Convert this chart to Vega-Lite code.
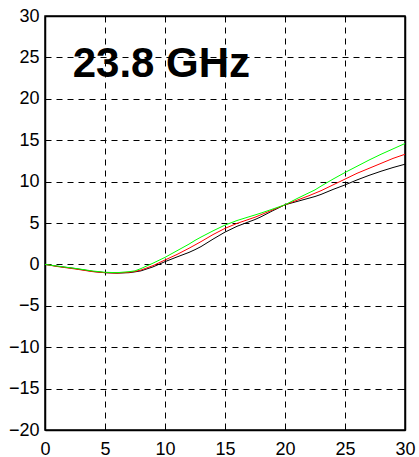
{
  "$schema": "https://vega.github.io/schema/vega-lite/v6.json",
  "width": 360,
  "height": 414,
  "autosize": {"type": "none"},
  "padding": {"left": 45, "top": 16, "right": 14, "bottom": 27},
  "background": "white",
  "config": {
    "font": "Liberation Sans",
    "view": {"stroke": "black", "strokeWidth": 1.5},
    "axis": {
      "labelFont": "Liberation Sans",
      "labelFontSize": 18,
      "labelColor": "black",
      "tickColor": "black",
      "tickSize": -5,
      "domainColor": "black",
      "domainWidth": 1.5,
      "title": null,
      "gridColor": "#000",
      "gridDash": [6, 5],
      "gridWidth": 1
    }
  },
  "datasets": {
    "curves": [
      {"x": 0, "y": 0, "s": "black"}, {"x": 1, "y": -0.22, "s": "black"}, {"x": 2.5, "y": -0.5, "s": "black"}, {"x": 4, "y": -0.85, "s": "black"}, {"x": 5, "y": -1.0, "s": "black"}, {"x": 6, "y": -1.05, "s": "black"}, {"x": 7, "y": -1.0, "s": "black"}, {"x": 7.5, "y": -0.9, "s": "black"}, {"x": 8, "y": -0.78, "s": "black"}, {"x": 9, "y": -0.3, "s": "black"}, {"x": 10, "y": 0.33, "s": "black"}, {"x": 11, "y": 0.9, "s": "black"}, {"x": 12, "y": 1.45, "s": "black"}, {"x": 12.5, "y": 1.78, "s": "black"}, {"x": 13, "y": 2.15, "s": "black"}, {"x": 14, "y": 3.05, "s": "black"}, {"x": 15, "y": 3.9, "s": "black"}, {"x": 16, "y": 4.6, "s": "black"}, {"x": 17, "y": 5.15, "s": "black"}, {"x": 17.5, "y": 5.42, "s": "black"}, {"x": 18, "y": 5.75, "s": "black"}, {"x": 19, "y": 6.5, "s": "black"}, {"x": 20, "y": 7.2, "s": "black"}, {"x": 21, "y": 7.6, "s": "black"}, {"x": 22, "y": 8.0, "s": "black"}, {"x": 22.5, "y": 8.2, "s": "black"}, {"x": 23, "y": 8.45, "s": "black"}, {"x": 24, "y": 9.05, "s": "black"}, {"x": 25, "y": 9.6, "s": "black"}, {"x": 26, "y": 10.2, "s": "black"}, {"x": 27, "y": 10.75, "s": "black"}, {"x": 27.5, "y": 11.0, "s": "black"}, {"x": 28, "y": 11.25, "s": "black"}, {"x": 29, "y": 11.7, "s": "black"}, {"x": 30, "y": 12.1, "s": "black"},
      {"x": 0, "y": 0, "s": "red"}, {"x": 1, "y": -0.25, "s": "red"}, {"x": 2.5, "y": -0.55, "s": "red"}, {"x": 4, "y": -0.88, "s": "red"}, {"x": 5, "y": -1.0, "s": "red"}, {"x": 6, "y": -1.05, "s": "red"}, {"x": 7, "y": -0.95, "s": "red"}, {"x": 7.5, "y": -0.85, "s": "red"}, {"x": 8, "y": -0.68, "s": "red"}, {"x": 9, "y": -0.15, "s": "red"}, {"x": 10, "y": 0.53, "s": "red"}, {"x": 11, "y": 1.2, "s": "red"}, {"x": 12, "y": 1.95, "s": "red"}, {"x": 12.5, "y": 2.35, "s": "red"}, {"x": 13, "y": 2.75, "s": "red"}, {"x": 14, "y": 3.6, "s": "red"}, {"x": 15, "y": 4.35, "s": "red"}, {"x": 16, "y": 4.95, "s": "red"}, {"x": 17, "y": 5.45, "s": "red"}, {"x": 17.5, "y": 5.7, "s": "red"}, {"x": 18, "y": 6.0, "s": "red"}, {"x": 19, "y": 6.6, "s": "red"}, {"x": 20, "y": 7.2, "s": "red"}, {"x": 21, "y": 7.75, "s": "red"}, {"x": 22, "y": 8.3, "s": "red"}, {"x": 22.5, "y": 8.6, "s": "red"}, {"x": 23, "y": 8.9, "s": "red"}, {"x": 24, "y": 9.6, "s": "red"}, {"x": 25, "y": 10.3, "s": "red"}, {"x": 26, "y": 11.0, "s": "red"}, {"x": 27, "y": 11.6, "s": "red"}, {"x": 27.5, "y": 11.9, "s": "red"}, {"x": 28, "y": 12.2, "s": "red"}, {"x": 29, "y": 12.8, "s": "red"}, {"x": 30, "y": 13.3, "s": "red"},
      {"x": 0, "y": 0, "s": "green"}, {"x": 1, "y": -0.2, "s": "green"}, {"x": 2.5, "y": -0.48, "s": "green"}, {"x": 4, "y": -0.8, "s": "green"}, {"x": 5, "y": -0.95, "s": "green"}, {"x": 6, "y": -1.0, "s": "green"}, {"x": 7, "y": -0.88, "s": "green"}, {"x": 7.5, "y": -0.78, "s": "green"}, {"x": 8, "y": -0.5, "s": "green"}, {"x": 9, "y": 0.15, "s": "green"}, {"x": 10, "y": 0.85, "s": "green"}, {"x": 11, "y": 1.65, "s": "green"}, {"x": 12, "y": 2.45, "s": "green"}, {"x": 12.5, "y": 2.9, "s": "green"}, {"x": 13, "y": 3.3, "s": "green"}, {"x": 14, "y": 4.05, "s": "green"}, {"x": 15, "y": 4.75, "s": "green"}, {"x": 16, "y": 5.3, "s": "green"}, {"x": 17, "y": 5.75, "s": "green"}, {"x": 17.5, "y": 5.97, "s": "green"}, {"x": 18, "y": 6.2, "s": "green"}, {"x": 19, "y": 6.7, "s": "green"}, {"x": 20, "y": 7.2, "s": "green"}, {"x": 21, "y": 7.95, "s": "green"}, {"x": 22, "y": 8.65, "s": "green"}, {"x": 22.5, "y": 9.0, "s": "green"}, {"x": 23, "y": 9.45, "s": "green"}, {"x": 24, "y": 10.3, "s": "green"}, {"x": 25, "y": 11.1, "s": "green"}, {"x": 26, "y": 11.85, "s": "green"}, {"x": 27, "y": 12.6, "s": "green"}, {"x": 27.5, "y": 12.95, "s": "green"}, {"x": 28, "y": 13.3, "s": "green"}, {"x": 29, "y": 13.95, "s": "green"}, {"x": 30, "y": 14.6, "s": "green"}
    ],
    "label": [{"x": 9.7, "y": 22.6, "text": "23.8 GHz"}]
  },
  "layer": [
    {
      "data": {"name": "curves"},
      "mark": {"type": "line", "strokeWidth": 1, "clip": true},
      "encoding": {
        "x": {
          "field": "x", "type": "quantitative",
          "scale": {"domain": [0, 30], "nice": false},
          "axis": {"values": [0, 5, 10, 15, 20, 25, 30], "grid": true, "labelPadding": 15, "labelFlush": false}
        },
        "y": {
          "field": "y", "type": "quantitative",
          "scale": {"domain": [-20, 30], "nice": false},
          "axis": {"values": [-20, -15, -10, -5, 0, 5, 10, 15, 20, 25, 30], "grid": true, "labelPadding": 11, "labelFlush": false}
        },
        "color": {
          "field": "s", "type": "nominal",
          "scale": {"domain": ["black", "red", "green"], "range": ["#000000", "#ff0000", "#00ff00"]},
          "legend": null
        }
      }
    },
    {
      "data": {"name": "curves"},
      "mark": {"type": "rule", "opacity": 0},
      "encoding": {
        "x": {"field": "x", "type": "quantitative", "axis": {"orient": "top", "values": [5, 10, 15, 20, 25], "labels": false, "grid": false, "domain": true}},
        "y": {"field": "y", "type": "quantitative", "axis": {"orient": "right", "values": [-15, -10, -5, 0, 5, 10, 15, 20, 25], "labels": false, "grid": false, "domain": true}}
      }
    },
    {
      "data": {"name": "label"},
      "mark": {"type": "text", "fontSize": 42, "fontWeight": "bold", "font": "Liberation Sans", "align": "center", "baseline": "alphabetic", "color": "black"},
      "encoding": {
        "x": {"field": "x", "type": "quantitative", "axis": null},
        "y": {"field": "y", "type": "quantitative", "axis": null},
        "text": {"field": "text"}
      }
    }
  ],
  "resolve": {"axis": {"x": "independent", "y": "independent"}}
}
